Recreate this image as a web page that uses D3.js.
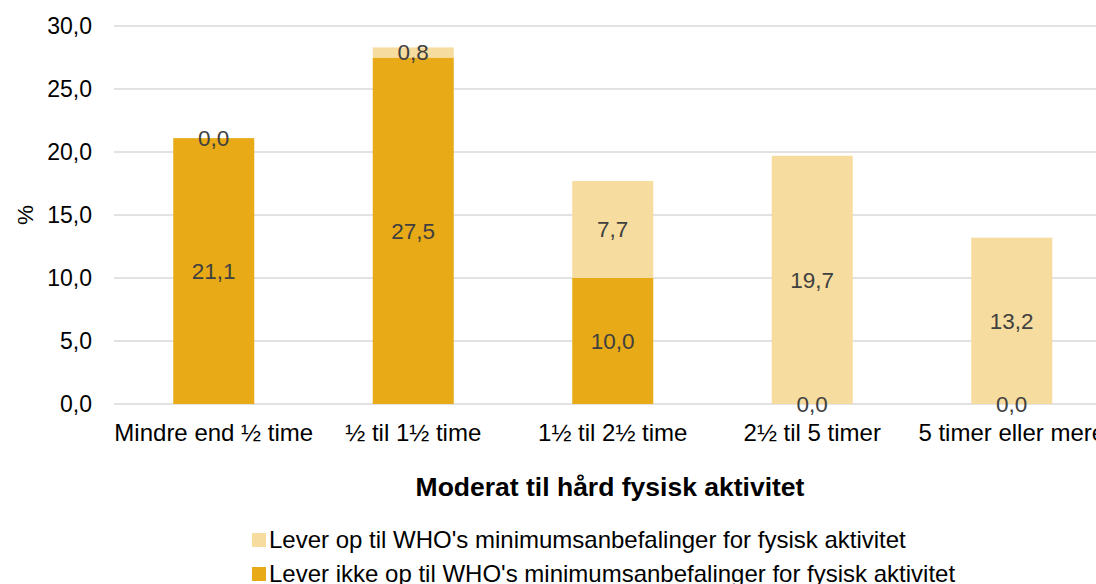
<!DOCTYPE html>
<html>
<head>
<meta charset="utf-8">
<script src="https://cdn.jsdelivr.net/npm/d3@7"></script>
<style>
  body { margin: 0; background: #fff; overflow: hidden; }
  text { font-family: "Liberation Sans", Arial, sans-serif; }
</style>
</head>
<body>
<svg></svg>
<script>
var categories = ["Mindre end ½ time", "½ til 1½ time", "1½ til 2½ time", "2½ til 5 timer", "5 timer eller mere"]
var ikkeOp = [21.1, 27.5, 10.0, 0.0, 0.0]
var op = [0.0, 0.8, 7.7, 19.7, 13.2]
var yTicks = [0, 5, 10, 15, 20, 25, 30]
var seriesNames = ["Lever op til WHO's minimumsanbefalinger for fysisk aktivitet",
                   "Lever ikke op til WHO's minimumsanbefalinger for fysisk aktivitet"]
var colors = { ikke: "#E8AA16", op: "#F6DC9E" }

var width = 1096
var height = 584

var svg = d3.select('svg')
            .attr('width', width)
            .attr('height', height)

var left = 114, plotW = 5 * 199.5
var xScale = d3.scaleBand()
               .domain(categories)
               .range([left, left + plotW])
               .paddingInner(0.594)
               .paddingOuter(0.297)

var yScale = d3.scaleLinear()
               .domain([0, 30])
               .range([404, 26])

var fmt = function(v){ return v.toFixed(1).replace('.', ',') }

// gridlines
svg.append('g').selectAll('line')
   .data(yTicks)
   .enter()
   .append('line')
   .attr('x1', left)
   .attr('x2', left + plotW)
   .attr('y1', function(d){ return yScale(d) })
   .attr('y2', function(d){ return yScale(d) })
   .attr('stroke', '#d9d9d9')
   .attr('stroke-width', 1.5)

// y tick labels
svg.append('g').selectAll('text')
   .data(yTicks)
   .enter()
   .append('text')
   .attr('x', 92)
   .attr('y', function(d){ return yScale(d) })
   .attr('dy', '0.35em')
   .attr('text-anchor', 'end')
   .attr('font-size', 23)
   .attr('fill', '#000')
   .text(fmt)

var stacked = categories.map(function(c, i){
  return { cat: c, ikke: ikkeOp[i], op: op[i] }
})

var plot = svg.append('g')

// dark segment
plot.selectAll('rect.ikke')
    .data(stacked)
    .enter()
    .append('rect')
    .attr('x', function(d){ return xScale(d.cat) })
    .attr('width', xScale.bandwidth())
    .attr('y', function(d){ return yScale(d.ikke) })
    .attr('height', function(d){ return yScale(0) - yScale(d.ikke) })
    .attr('fill', colors.ikke)

// light segment
plot.selectAll('rect.op')
    .data(stacked)
    .enter()
    .append('rect')
    .attr('x', function(d){ return xScale(d.cat) })
    .attr('width', xScale.bandwidth())
    .attr('y', function(d){ return yScale(d.ikke + d.op) })
    .attr('height', function(d){ return yScale(d.ikke) - yScale(d.ikke + d.op) })
    .attr('fill', colors.op)

// data labels
plot.selectAll('text.ikke')
    .data(stacked)
    .enter()
    .append('text')
    .attr('x', function(d){ return xScale(d.cat) + xScale.bandwidth() / 2 })
    .attr('y', function(d){ return yScale(d.ikke / 2) })
    .attr('dy', '0.35em')
    .attr('text-anchor', 'middle')
    .attr('font-size', 22.5)
    .attr('fill', '#404040')
    .text(function(d){ return fmt(d.ikke) })

plot.selectAll('text.op')
    .data(stacked)
    .enter()
    .append('text')
    .attr('x', function(d){ return xScale(d.cat) + xScale.bandwidth() / 2 })
    .attr('y', function(d){ return yScale(d.ikke + d.op / 2) })
    .attr('dy', '0.35em')
    .attr('text-anchor', 'middle')
    .attr('font-size', 22.5)
    .attr('fill', '#404040')
    .text(function(d){ return fmt(d.op) })

// x category labels
svg.append('g').selectAll('text')
   .data(categories)
   .enter()
   .append('text')
   .attr('x', function(d){ return xScale(d) + xScale.bandwidth() / 2 })
   .attr('y', 441)
   .attr('text-anchor', 'middle')
   .attr('font-size', 24)
   .attr('fill', '#000')
   .text(function(d){ return d })

// axis titles
svg.append('text')
   .attr('x', 610)
   .attr('y', 496)
   .attr('text-anchor', 'middle')
   .attr('font-size', 26.5)
   .attr('font-weight', 'bold')
   .attr('fill', '#000')
   .text('Moderat til hård fysisk aktivitet')

svg.append('text')
   .attr('transform', 'translate(33,215) rotate(-90)')
   .attr('text-anchor', 'middle')
   .attr('font-size', 22.5)
   .attr('fill', '#000')
   .text('%')

// legend
var legend = svg.append('g')
legend.selectAll('g')
      .data([{ name: seriesNames[0], color: colors.op }, { name: seriesNames[1], color: colors.ikke }])
      .enter()
      .append('g')
      .attr('transform', function(d, i){ return 'translate(252,' + (540 + i * 34) + ')' })
      .each(function(d){
        var g = d3.select(this)
        g.append('rect').attr('x', 0).attr('y', -7).attr('width', 14).attr('height', 14).attr('fill', d.color)
        g.append('text').attr('x', 17).attr('y', 0).attr('dy', '0.35em')
         .attr('font-size', 24).attr('fill', '#000').text(d.name)
      })
</script>
</body>
</html>
